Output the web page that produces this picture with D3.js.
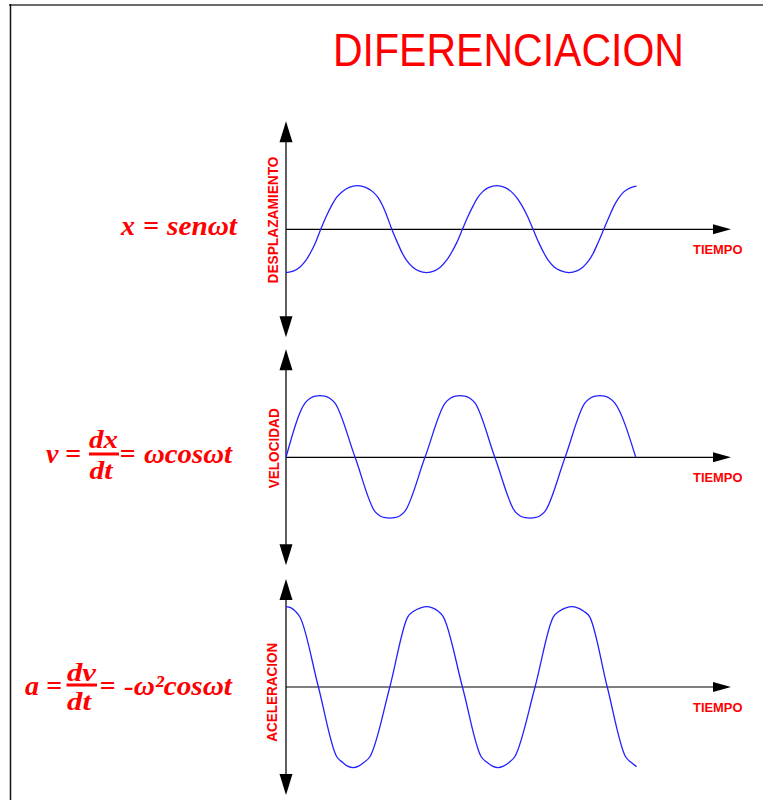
<!DOCTYPE html>
<html>
<head>
<meta charset="utf-8">
<script src="https://cdn.jsdelivr.net/npm/d3@7"></script>
<style>
  html, body { margin: 0; padding: 0; background: #fff; }
  svg { display: block; }
</style>
</head>
<body>
<svg id="chart" width="763" height="800"></svg>
<script>
// Phase ωt in degrees along the time axis, and the signal value at each phase.
const dispT = [0,20,36,50,62,76,89,103,117,129,144,162,183,
  204,222,236,247,259,271,285,298,310,324,340,360,
  380,396,410,423,438,452,466,480,491,504,520,540,
  560,577,591,604,619,633,647,661,673,687,705,725,
  745,761,775,787,800,814,828,841,853,866,882,898];
const dispV = [-1.01,-0.97,-0.88,-0.74,-0.56,-0.30,0,0.30,0.56,0.74,0.88,0.98,1.02,
  0.98,0.88,0.74,0.56,0.30,0,-0.30,-0.56,-0.74,-0.88,-0.97,-1.01,
  -0.97,-0.88,-0.74,-0.56,-0.30,0,0.30,0.56,0.74,0.88,0.98,1.02,
  0.98,0.88,0.74,0.56,0.30,0,-0.30,-0.56,-0.74,-0.88,-0.97,-1.01,
  -0.97,-0.88,-0.74,-0.56,-0.30,0,0.30,0.56,0.74,0.88,0.97,1.01];

const velT = [0,49,62,75,87,99,112,125,177,
  228,241,254,266,278,291,304,356,
  408,421,434,446,458,471,484,535,
  587,600,613,625,637,650,663,715,
  766,779,792,804,816,829,842,896];
const velV = [0,1.27,1.38,1.43,1.44,1.43,1.38,1.27,0,
  -1.27,-1.37,-1.41,-1.42,-1.41,-1.37,-1.27,0,
  1.27,1.38,1.43,1.44,1.43,1.38,1.27,0,
  -1.27,-1.37,-1.41,-1.42,-1.41,-1.37,-1.27,0,
  1.27,1.38,1.43,1.44,1.43,1.38,1.27,0];

const accT = [0,13,25,36,83,130,145,158,172,186,200,215,266,
  312,327,345,360,375,390,403,452,
  500,515,529,543,557,572,586,638,
  685,700,717,732,747,763,778,823,
  870,884,898];
const accV = [1.88,1.85,1.76,1.63,0,-1.63,-1.76,-1.85,-1.885,-1.85,-1.76,-1.63,0,
  1.64,1.77,1.85,1.88,1.85,1.77,1.64,0,
  -1.63,-1.76,-1.85,-1.885,-1.85,-1.76,-1.63,0,
  1.64,1.77,1.85,1.88,1.85,1.77,1.64,0,
  -1.63,-1.76,-1.86];

const axisLabels = ["DESPLAZAMIENTO", "VELOCIDAD", "ACELERACION"];
const timeLabel = "TIEMPO";
const titleText = "DIFERENCIACION";

const RED = "#ff0000";
const svg = d3.select("#chart");

// Sheet border (top and left edges)
svg.append("line").attr("x1", 9).attr("x2", 763).attr("y1", 5).attr("y2", 5)
  .attr("stroke", "#6a6a6a").attr("stroke-width", 2);
svg.append("line").attr("x1", 10.5).attr("x2", 10.5).attr("y1", 4).attr("y2", 800)
  .attr("stroke", "#111").attr("stroke-width", 1.5);

// Title
svg.append("text")
  .attr("x", 333).attr("y", 66)
  .attr("textLength", 351).attr("lengthAdjust", "spacingAndGlyphs")
  .attr("font-family", "'Liberation Sans', Arial, sans-serif")
  .attr("font-size", 46).attr("fill", RED)
  .text(titleText);

// Shared time scale (phase in degrees -> x)
const tScale = d3.scaleLinear().domain([0, 1140]).range([286, 731]);

const panels = [
  { cy: 229.3, t: dispT, v: dispV, label: axisLabels[0], lx: 272.7, ly: 220, len: 127 },
  { cy: 457.3, t: velT,  v: velV,  label: axisLabels[1], lx: 273.8, ly: 448.3, len: 80 },
  { cy: 687,   t: accT,  v: accV,  label: axisLabels[2], lx: 271.5, ly: 692.2, len: 99 }
];

panels.forEach(p => {
  const y = d3.scaleLinear().domain([-2.5, 2.5]).range([p.cy + 107, p.cy - 107]);
  const g = svg.append("g");
  const x0 = tScale.range()[0], x1 = tScale.range()[1];
  const yTop = y.range()[1] - 1, yBot = y.range()[0] + 1;

  // vertical axis with arrowheads at both ends
  g.append("line").attr("x1", x0).attr("x2", x0).attr("y1", yTop + 10).attr("y2", yBot - 10)
    .attr("stroke", "#444").attr("stroke-width", 1.7);
  g.append("path")
    .attr("d", `M${x0},${yTop} L${x0 - 6.5},${yTop + 21} L${x0 + 6.5},${yTop + 21} Z`)
    .attr("fill", "#000");
  g.append("path")
    .attr("d", `M${x0},${yBot} L${x0 - 6.5},${yBot - 21} L${x0 + 6.5},${yBot - 21} Z`)
    .attr("fill", "#000");

  // time axis with arrowhead
  const yz = y(0);
  g.append("line").attr("x1", x0).attr("x2", x1 - 10).attr("y1", yz).attr("y2", yz)
    .attr("stroke", "#000").attr("stroke-width", 1.2);
  g.append("path")
    .attr("d", `M${x1},${yz} L${x1 - 18},${yz - 5} L${x1 - 18},${yz + 5} Z`)
    .attr("fill", "#000");

  // waveform
  const pts = p.t.map((t, i) => [t, p.v[i]]);
  g.append("path")
    .datum(pts)
    .attr("fill", "none")
    .attr("stroke", "#2222ff")
    .attr("stroke-width", 1.3)
    .attr("d", d3.line().x(d => tScale(d[0])).y(d => y(d[1])).curve(d3.curveMonotoneX));

  // axis titles
  g.append("text")
    .attr("transform", `translate(${p.lx},${p.ly}) rotate(-90)`)
    .attr("text-anchor", "middle").attr("dy", "0.36em")
    .attr("textLength", p.len).attr("lengthAdjust", "spacingAndGlyphs")
    .attr("font-family", "'Liberation Sans', Arial, sans-serif")
    .attr("font-weight", "bold").attr("font-size", 14.5).attr("fill", RED)
    .text(p.label);
  g.append("text")
    .attr("x", 693).attr("y", yz + 25)
    .attr("textLength", 49.5).attr("lengthAdjust", "spacingAndGlyphs")
    .attr("font-family", "'Liberation Sans', Arial, sans-serif")
    .attr("font-weight", "bold").attr("font-size", 13.5).attr("fill", RED)
    .text(timeLabel);
});

// Equations
const eq = svg.append("g")
  .attr("font-family", "'Liberation Serif', 'Times New Roman', serif")
  .attr("font-weight", "bold").attr("font-style", "italic")
  .attr("font-size", 28).attr("fill", RED);

function piece(txt, x, y, len, anchor, size) {
  const t = eq.append("text").attr("x", x).attr("y", y).text(txt);
  if (len) t.attr("textLength", len).attr("lengthAdjust", "spacingAndGlyphs");
  if (anchor) t.attr("text-anchor", anchor);
  if (size) t.attr("font-size", size);
  return t;
}
function bar(x1, x2, y) {
  eq.append("rect").attr("x", x1).attr("y", y - 1.5).attr("width", x2 - x1).attr("height", 3).attr("fill", RED);
}

// x = senωt
piece("x", 121, 235);
piece("=", 143, 235);
piece("senωt", 167, 235, 70);

// v = dx/dt = ωcosωt
piece("v", 46, 463.3);
piece("=", 65, 463.3);
piece("dx", 103.5, 448.3, 29, "middle", 26);
bar(89, 119, 454);
piece("dt", 101, 479, 23, "middle", 26);
piece("=", 119.5, 463.3);
piece("ωcosωt", 144, 463.3, 88);

// a = dv/dt = -ω²cosωt
piece("a", 25, 695);
piece("=", 46, 695);
piece("dv", 81.5, 680.5, 29, "middle", 26);
bar(66.5, 97, 685);
piece("dt", 79, 710, 24, "middle", 26);
piece("=", 99.5, 695);
piece("-ω²cosωt", 124, 695, 108);
</script>
</body>
</html>
